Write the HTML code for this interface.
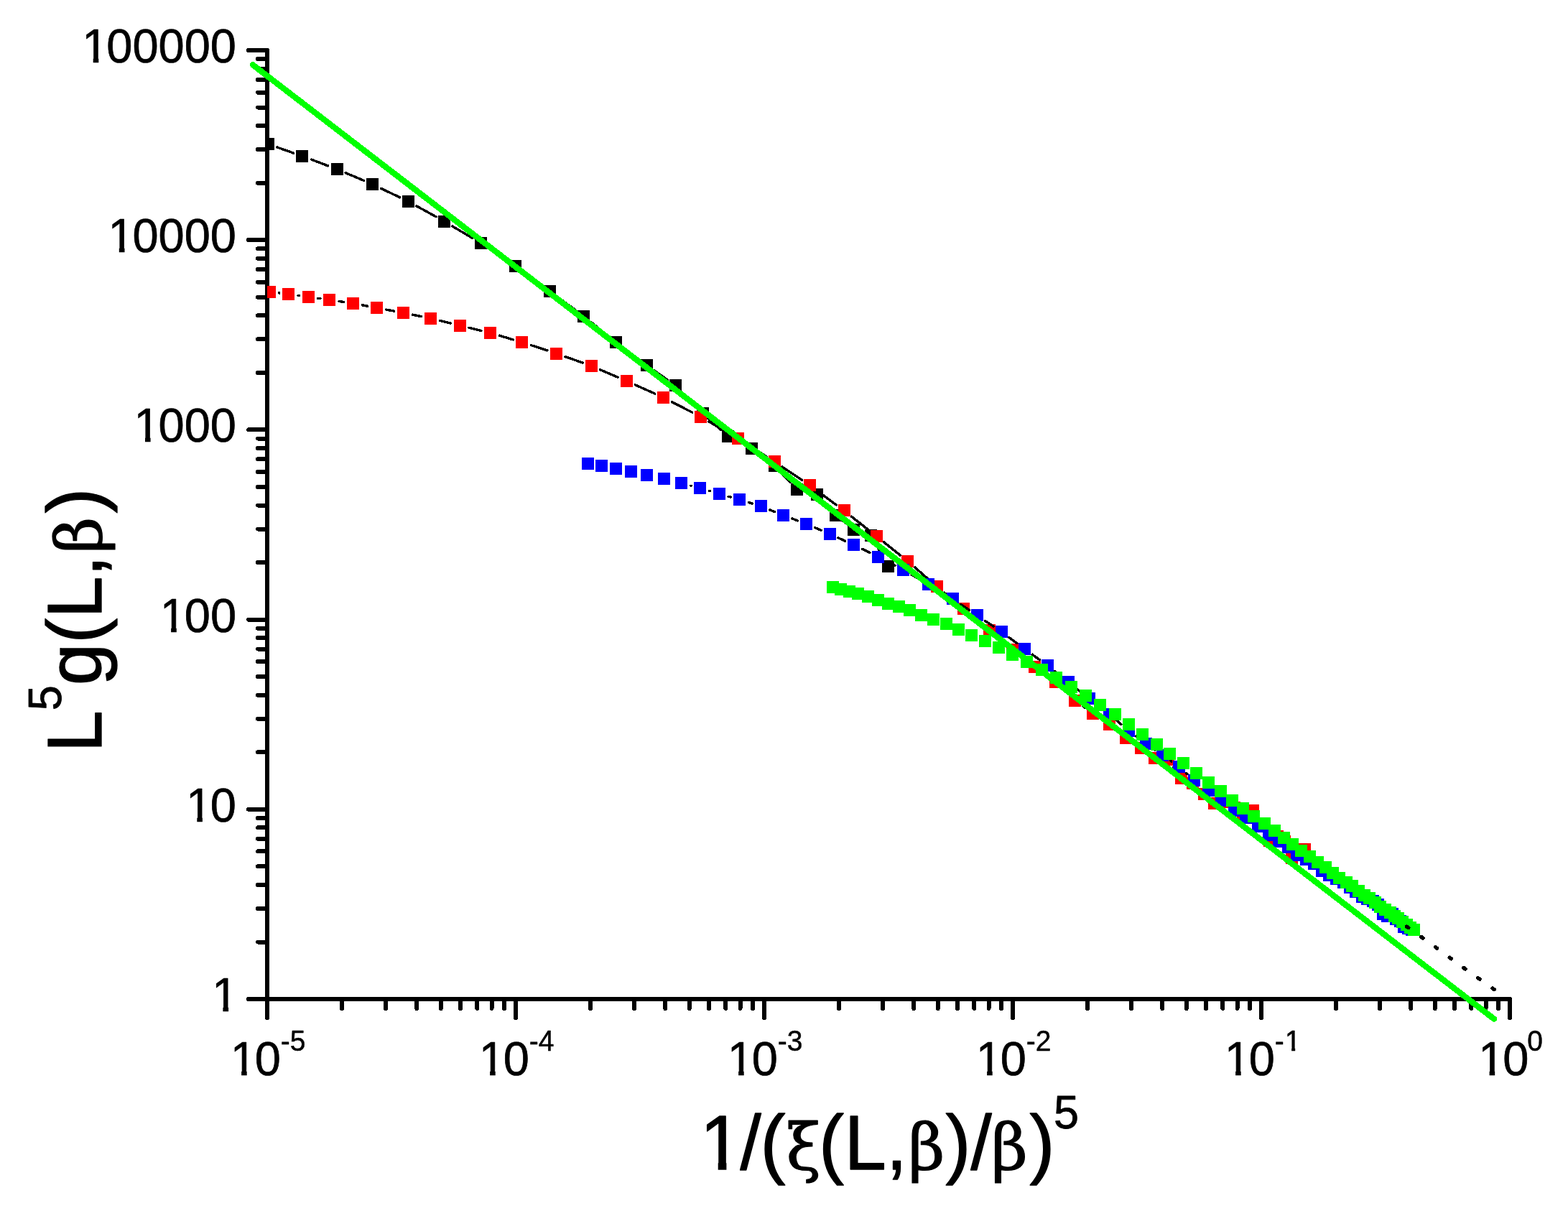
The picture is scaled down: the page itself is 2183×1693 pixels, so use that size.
<!DOCTYPE html>
<html lang="en">
<head>
<meta charset="utf-8">
<title>L^5 g(L,beta) versus 1/(xi(L,beta)/beta)^5</title>
<style>
html,body{margin:0;padding:0;background:#fff;}
body{width:2183px;height:1693px;overflow:hidden;}
svg{display:block;}
text{font-family:"Liberation Sans",sans-serif;fill:#000;stroke:#000;stroke-linejoin:round;}
.tick{font-size:65px;stroke-width:0.7;}
.sup{font-size:39px;stroke-width:0.5;}
.title{font-size:105px;stroke-width:1.3;}
.tsup{font-size:63px;stroke-width:0.8;}
.gr{font-family:"DejaVu Serif","Liberation Serif",serif;font-size:88px;stroke-width:1.2;}
.ax{stroke:#000;stroke-width:6;stroke-linecap:round;fill:none;}
.ln{stroke:#000;stroke-width:3.4;stroke-linecap:round;fill:none;}
.k{fill:#000;}.r{fill:#f00;}.b{fill:#00f;}.g{fill:#0f0;}
</style>
</head>
<body>
<svg width="2183" height="1693" viewBox="0 0 2183 1693" role="img" aria-label="Log-log plot of L^5 g(L,beta) versus 1/(xi(L,beta)/beta)^5">
<rect x="0" y="0" width="2183" height="1693" fill="#fff"/>
<defs><clipPath id="plot"><rect x="372" y="0" width="1760" height="1460"/></clipPath></defs>
<g class="ax" shape-rendering="crispEdges">
<line x1="372" y1="70" x2="372" y2="1417"/>
<line x1="346" y1="1391" x2="2102" y2="1391"/>
<line x1="346" y1="70.0" x2="372" y2="70.0"/>
<line x1="359" y1="254.7" x2="372" y2="254.7"/>
<line x1="359" y1="208.1" x2="372" y2="208.1"/>
<line x1="359" y1="175.1" x2="372" y2="175.1"/>
<line x1="359" y1="149.5" x2="372" y2="149.5"/>
<line x1="359" y1="128.6" x2="372" y2="128.6"/>
<line x1="359" y1="110.9" x2="372" y2="110.9"/>
<line x1="359" y1="95.6" x2="372" y2="95.6"/>
<line x1="359" y1="82.1" x2="372" y2="82.1"/>
<line x1="346" y1="334.2" x2="372" y2="334.2"/>
<line x1="359" y1="518.9" x2="372" y2="518.9"/>
<line x1="359" y1="472.3" x2="372" y2="472.3"/>
<line x1="359" y1="439.3" x2="372" y2="439.3"/>
<line x1="359" y1="413.7" x2="372" y2="413.7"/>
<line x1="359" y1="392.8" x2="372" y2="392.8"/>
<line x1="359" y1="375.1" x2="372" y2="375.1"/>
<line x1="359" y1="359.8" x2="372" y2="359.8"/>
<line x1="359" y1="346.3" x2="372" y2="346.3"/>
<line x1="346" y1="598.4" x2="372" y2="598.4"/>
<line x1="359" y1="783.1" x2="372" y2="783.1"/>
<line x1="359" y1="736.5" x2="372" y2="736.5"/>
<line x1="359" y1="703.5" x2="372" y2="703.5"/>
<line x1="359" y1="677.9" x2="372" y2="677.9"/>
<line x1="359" y1="657.0" x2="372" y2="657.0"/>
<line x1="359" y1="639.3" x2="372" y2="639.3"/>
<line x1="359" y1="624.0" x2="372" y2="624.0"/>
<line x1="359" y1="610.5" x2="372" y2="610.5"/>
<line x1="346" y1="862.6" x2="372" y2="862.6"/>
<line x1="359" y1="1047.3" x2="372" y2="1047.3"/>
<line x1="359" y1="1000.7" x2="372" y2="1000.7"/>
<line x1="359" y1="967.7" x2="372" y2="967.7"/>
<line x1="359" y1="942.1" x2="372" y2="942.1"/>
<line x1="359" y1="921.2" x2="372" y2="921.2"/>
<line x1="359" y1="903.5" x2="372" y2="903.5"/>
<line x1="359" y1="888.2" x2="372" y2="888.2"/>
<line x1="359" y1="874.7" x2="372" y2="874.7"/>
<line x1="346" y1="1126.8" x2="372" y2="1126.8"/>
<line x1="359" y1="1311.5" x2="372" y2="1311.5"/>
<line x1="359" y1="1264.9" x2="372" y2="1264.9"/>
<line x1="359" y1="1231.9" x2="372" y2="1231.9"/>
<line x1="359" y1="1206.3" x2="372" y2="1206.3"/>
<line x1="359" y1="1185.4" x2="372" y2="1185.4"/>
<line x1="359" y1="1167.7" x2="372" y2="1167.7"/>
<line x1="359" y1="1152.4" x2="372" y2="1152.4"/>
<line x1="359" y1="1138.9" x2="372" y2="1138.9"/>
<line x1="346" y1="1391.0" x2="372" y2="1391.0"/>
<line x1="372.0" y1="1391" x2="372.0" y2="1417"/>
<line x1="476.2" y1="1391" x2="476.2" y2="1404"/>
<line x1="537.1" y1="1391" x2="537.1" y2="1404"/>
<line x1="580.3" y1="1391" x2="580.3" y2="1404"/>
<line x1="613.8" y1="1391" x2="613.8" y2="1404"/>
<line x1="641.2" y1="1391" x2="641.2" y2="1404"/>
<line x1="664.4" y1="1391" x2="664.4" y2="1404"/>
<line x1="684.5" y1="1391" x2="684.5" y2="1404"/>
<line x1="702.2" y1="1391" x2="702.2" y2="1404"/>
<line x1="718.0" y1="1391" x2="718.0" y2="1417"/>
<line x1="822.2" y1="1391" x2="822.2" y2="1404"/>
<line x1="883.1" y1="1391" x2="883.1" y2="1404"/>
<line x1="926.3" y1="1391" x2="926.3" y2="1404"/>
<line x1="959.8" y1="1391" x2="959.8" y2="1404"/>
<line x1="987.2" y1="1391" x2="987.2" y2="1404"/>
<line x1="1010.4" y1="1391" x2="1010.4" y2="1404"/>
<line x1="1030.5" y1="1391" x2="1030.5" y2="1404"/>
<line x1="1048.2" y1="1391" x2="1048.2" y2="1404"/>
<line x1="1064.0" y1="1391" x2="1064.0" y2="1417"/>
<line x1="1168.2" y1="1391" x2="1168.2" y2="1404"/>
<line x1="1229.1" y1="1391" x2="1229.1" y2="1404"/>
<line x1="1272.3" y1="1391" x2="1272.3" y2="1404"/>
<line x1="1305.8" y1="1391" x2="1305.8" y2="1404"/>
<line x1="1333.2" y1="1391" x2="1333.2" y2="1404"/>
<line x1="1356.4" y1="1391" x2="1356.4" y2="1404"/>
<line x1="1376.5" y1="1391" x2="1376.5" y2="1404"/>
<line x1="1394.2" y1="1391" x2="1394.2" y2="1404"/>
<line x1="1410.0" y1="1391" x2="1410.0" y2="1417"/>
<line x1="1514.2" y1="1391" x2="1514.2" y2="1404"/>
<line x1="1575.1" y1="1391" x2="1575.1" y2="1404"/>
<line x1="1618.3" y1="1391" x2="1618.3" y2="1404"/>
<line x1="1651.8" y1="1391" x2="1651.8" y2="1404"/>
<line x1="1679.2" y1="1391" x2="1679.2" y2="1404"/>
<line x1="1702.4" y1="1391" x2="1702.4" y2="1404"/>
<line x1="1722.5" y1="1391" x2="1722.5" y2="1404"/>
<line x1="1740.2" y1="1391" x2="1740.2" y2="1404"/>
<line x1="1756.0" y1="1391" x2="1756.0" y2="1417"/>
<line x1="1860.2" y1="1391" x2="1860.2" y2="1404"/>
<line x1="1921.1" y1="1391" x2="1921.1" y2="1404"/>
<line x1="1964.3" y1="1391" x2="1964.3" y2="1404"/>
<line x1="1997.8" y1="1391" x2="1997.8" y2="1404"/>
<line x1="2025.2" y1="1391" x2="2025.2" y2="1404"/>
<line x1="2048.4" y1="1391" x2="2048.4" y2="1404"/>
<line x1="2068.5" y1="1391" x2="2068.5" y2="1404"/>
<line x1="2086.2" y1="1391" x2="2086.2" y2="1404"/>
<line x1="2102.0" y1="1391" x2="2102.0" y2="1417"/>
</g>
<g clip-path="url(#plot)" shape-rendering="crispEdges">
<path class="ln" d="M385.8 205.0L408.6 213.1M433.4 222.1L456.7 230.9M481.2 240.7L506.4 251.4M530.4 262.3L556.6 274.8M580.1 286.9L607.0 301.8M629.9 315.0L657.8 331.6M680.1 345.7L706.5 363.1M728.2 378.2L754.7 397.6M776.0 413.2L802.0 432.4M822.9 448.5L847.2 468.2M868.1 484.4L889.8 500.5M911.1 516.1L929.5 529.1M949.4 546.2L969.1 566.3M988.1 584.5L1003.7 598.5M1025.3 613.3L1034.4 618.0M1056.7 632.0L1067.8 640.3M1087.4 657.9L1100.3 671.7M1122.2 684.7L1124.7 685.4M1146.4 698.6L1154.5 707.5M1173.8 725.5L1178.2 728.9M1219.0 756.9L1229.8 776.9"/>
<rect class="k" x="365" y="192" width="17" height="17"/>
<rect class="k" x="412" y="209" width="17" height="17"/>
<rect class="k" x="461" y="227" width="17" height="17"/>
<rect class="k" x="510" y="248" width="17" height="17"/>
<rect class="k" x="560" y="272" width="17" height="17"/>
<rect class="k" x="610" y="300" width="17" height="17"/>
<rect class="k" x="661" y="330" width="17" height="17"/>
<rect class="k" x="709" y="362" width="17" height="17"/>
<rect class="k" x="757" y="397" width="17" height="17"/>
<rect class="k" x="804" y="432" width="17" height="17"/>
<rect class="k" x="849" y="468" width="17" height="17"/>
<rect class="k" x="892" y="500" width="17" height="17"/>
<rect class="k" x="932" y="528" width="17" height="17"/>
<rect class="k" x="970" y="567" width="17" height="17"/>
<rect class="k" x="1005" y="599" width="17" height="17"/>
<rect class="k" x="1038" y="616" width="17" height="17"/>
<rect class="k" x="1070" y="640" width="17" height="17"/>
<rect class="k" x="1101" y="673" width="17" height="17"/>
<rect class="k" x="1129" y="680" width="17" height="17"/>
<rect class="k" x="1155" y="709" width="17" height="17"/>
<rect class="k" x="1180" y="729" width="17" height="17"/>
<rect class="k" x="1204" y="737" width="17" height="17"/>
<rect class="k" x="1228" y="780" width="17" height="17"/>
</g>
<g clip-path="url(#plot)" shape-rendering="crispEdges">
<path class="ln" d="M388.5 407.9L388.8 408.0M415.0 411.4L416.4 411.6M442.6 415.3L445.9 415.7M472.1 419.5L478.4 420.4M504.5 424.8L511.5 426.2M537.5 431.1L548.5 433.1M574.4 438.2L586.6 440.6M612.3 446.3L627.2 450.0M652.8 456.2L669.9 460.4M695.4 467.2L714.3 472.9M739.6 480.7L761.9 487.9M786.9 496.5L811.1 505.1M835.6 514.8L860.3 525.3M884.4 535.9L911.8 548.1M935.5 559.6L963.7 574.2M986.8 586.9L1016.0 604.0M1038.6 617.6L1066.9 635.5M1089.0 649.9L1116.5 668.3M1138.0 683.5L1164.5 703.1M1185.4 719.1L1209.7 738.3M1230.3 754.7L1253.4 773.2M1273.7 790.0L1294.5 808.1M1314.6 825.2L1331.3 839.0M1351.6 855.9L1367.4 868.8M1387.7 885.7L1399.8 895.9M1420.3 912.6L1429.9 920.1M1451.0 936.0L1458.8 941.6M1479.0 958.4L1487.2 966.2M1507.4 983.0L1510.8 985.5M1532.6 1000.4L1533.6 1001.0M1554.8 1016.7L1557.4 1018.8M1633.9 1068.1L1636.9 1072.5"/>
<rect class="r" x="367" y="398" width="17" height="17"/>
<rect class="r" x="393" y="401" width="17" height="17"/>
<rect class="r" x="421" y="405" width="17" height="17"/>
<rect class="r" x="450" y="409" width="17" height="17"/>
<rect class="r" x="483" y="414" width="17" height="17"/>
<rect class="r" x="516" y="420" width="17" height="17"/>
<rect class="r" x="553" y="427" width="17" height="17"/>
<rect class="r" x="591" y="435" width="17" height="17"/>
<rect class="r" x="632" y="445" width="17" height="17"/>
<rect class="r" x="674" y="455" width="17" height="17"/>
<rect class="r" x="718" y="468" width="17" height="17"/>
<rect class="r" x="766" y="484" width="17" height="17"/>
<rect class="r" x="815" y="501" width="17" height="17"/>
<rect class="r" x="864" y="522" width="17" height="17"/>
<rect class="r" x="915" y="545" width="17" height="17"/>
<rect class="r" x="967" y="572" width="17" height="17"/>
<rect class="r" x="1019" y="602" width="17" height="17"/>
<rect class="r" x="1070" y="634" width="17" height="17"/>
<rect class="r" x="1119" y="667" width="17" height="17"/>
<rect class="r" x="1167" y="702" width="17" height="17"/>
<rect class="r" x="1212" y="738" width="17" height="17"/>
<rect class="r" x="1255" y="773" width="17" height="17"/>
<rect class="r" x="1296" y="808" width="17" height="17"/>
<rect class="r" x="1333" y="839" width="17" height="17"/>
<rect class="r" x="1369" y="869" width="17" height="17"/>
<rect class="r" x="1401" y="896" width="17" height="17"/>
<rect class="r" x="1432" y="920" width="17" height="17"/>
<rect class="r" x="1461" y="941" width="17" height="17"/>
<rect class="r" x="1488" y="967" width="17" height="17"/>
<rect class="r" x="1513" y="985" width="17" height="17"/>
<rect class="r" x="1536" y="1000" width="17" height="17"/>
<rect class="r" x="1559" y="1019" width="17" height="17"/>
<rect class="r" x="1580" y="1033" width="17" height="17"/>
<rect class="r" x="1599" y="1047" width="17" height="17"/>
<rect class="r" x="1618" y="1049" width="17" height="17"/>
<rect class="r" x="1636" y="1075" width="17" height="17"/>
<rect class="r" x="1652" y="1082" width="17" height="17"/>
<rect class="r" x="1668" y="1097" width="17" height="17"/>
<rect class="r" x="1682" y="1110" width="17" height="17"/>
<rect class="r" x="1696" y="1108" width="17" height="17"/>
<rect class="r" x="1710" y="1116" width="17" height="17"/>
<rect class="r" x="1722" y="1126" width="17" height="17"/>
<rect class="r" x="1736" y="1120" width="17" height="17"/>
<rect class="r" x="1748" y="1142" width="17" height="17"/>
<rect class="r" x="1759" y="1162" width="17" height="17"/>
<rect class="r" x="1770" y="1156" width="17" height="17"/>
<rect class="r" x="1780" y="1163" width="17" height="17"/>
<rect class="r" x="1790" y="1186" width="17" height="17"/>
<rect class="r" x="1799" y="1176" width="17" height="17"/>
<rect class="r" x="1808" y="1174" width="17" height="17"/>
</g>
<g clip-path="url(#plot)" shape-rendering="crispEdges">
<path class="ln" d="M961.8 676.3L962.2 676.4M987.6 683.5L988.8 683.8M1014.1 691.2L1017.2 692.0M1042.5 699.6L1047.0 701.0M1071.8 709.9L1078.4 712.6M1103.0 722.1L1110.2 724.8M1134.7 734.7L1143.0 738.2M1167.1 748.9L1176.6 753.2M1200.5 764.4L1211.1 769.6M1234.7 781.5L1246.0 787.4M1269.1 800.1L1281.2 807.1M1304.0 820.4L1315.2 827.1M1337.5 841.3L1349.6 849.5M1371.4 864.4L1383.3 872.3M1404.8 887.5L1415.8 895.7M1437.1 911.2L1447.5 918.8M1468.5 934.7L1477.1 941.5M1497.7 957.9L1506.2 964.7M1526.9 981.0L1534.3 986.8M1554.8 1003.4L1561.0 1008.7M1581.6 1025.2L1585.2 1027.8M1606.5 1043.3L1607.8 1044.2M1629.5 1059.1L1630.7 1060.0M1651.4 1076.3L1652.8 1077.6"/>
<rect class="b" x="810" y="637" width="17" height="17"/>
<rect class="b" x="829" y="640" width="17" height="17"/>
<rect class="b" x="849" y="644" width="17" height="17"/>
<rect class="b" x="870" y="648" width="17" height="17"/>
<rect class="b" x="892" y="653" width="17" height="17"/>
<rect class="b" x="916" y="658" width="17" height="17"/>
<rect class="b" x="940" y="664" width="17" height="17"/>
<rect class="b" x="966" y="671" width="17" height="17"/>
<rect class="b" x="993" y="679" width="17" height="17"/>
<rect class="b" x="1021" y="687" width="17" height="17"/>
<rect class="b" x="1051" y="696" width="17" height="17"/>
<rect class="b" x="1082" y="709" width="17" height="17"/>
<rect class="b" x="1114" y="721" width="17" height="17"/>
<rect class="b" x="1147" y="735" width="17" height="17"/>
<rect class="b" x="1180" y="750" width="17" height="17"/>
<rect class="b" x="1214" y="767" width="17" height="17"/>
<rect class="b" x="1249" y="785" width="17" height="17"/>
<rect class="b" x="1284" y="805" width="17" height="17"/>
<rect class="b" x="1318" y="825" width="17" height="17"/>
<rect class="b" x="1352" y="848" width="17" height="17"/>
<rect class="b" x="1386" y="871" width="17" height="17"/>
<rect class="b" x="1418" y="895" width="17" height="17"/>
<rect class="b" x="1450" y="918" width="17" height="17"/>
<rect class="b" x="1479" y="941" width="17" height="17"/>
<rect class="b" x="1508" y="964" width="17" height="17"/>
<rect class="b" x="1536" y="986" width="17" height="17"/>
<rect class="b" x="1563" y="1009" width="17" height="17"/>
<rect class="b" x="1587" y="1027" width="17" height="17"/>
<rect class="b" x="1610" y="1043" width="17" height="17"/>
<rect class="b" x="1633" y="1059" width="17" height="17"/>
<rect class="b" x="1654" y="1078" width="17" height="17"/>
<rect class="b" x="1674" y="1092" width="17" height="17"/>
<rect class="b" x="1692" y="1106" width="17" height="17"/>
<rect class="b" x="1710" y="1120" width="17" height="17"/>
<rect class="b" x="1726" y="1130" width="17" height="17"/>
<rect class="b" x="1743" y="1142" width="17" height="17"/>
<rect class="b" x="1758" y="1154" width="17" height="17"/>
<rect class="b" x="1772" y="1163" width="17" height="17"/>
<rect class="b" x="1785" y="1171" width="17" height="17"/>
<rect class="b" x="1797" y="1182" width="17" height="17"/>
<rect class="b" x="1810" y="1188" width="17" height="17"/>
<rect class="b" x="1821" y="1194" width="17" height="17"/>
<rect class="b" x="1832" y="1204" width="17" height="17"/>
<rect class="b" x="1842" y="1210" width="17" height="17"/>
<rect class="b" x="1852" y="1215" width="17" height="17"/>
<rect class="b" x="1862" y="1220" width="17" height="17"/>
<rect class="b" x="1871" y="1227" width="17" height="17"/>
<rect class="b" x="1879" y="1233" width="17" height="17"/>
<rect class="b" x="1888" y="1240" width="17" height="17"/>
<rect class="b" x="1895" y="1243" width="17" height="17"/>
<rect class="b" x="1903" y="1246" width="17" height="17"/>
<rect class="b" x="1910" y="1251" width="17" height="17"/>
<rect class="b" x="1917" y="1264" width="17" height="17"/>
<rect class="b" x="1923" y="1267" width="17" height="17"/>
<rect class="b" x="1930" y="1264" width="17" height="17"/>
<rect class="b" x="1935" y="1271" width="17" height="17"/>
<rect class="b" x="1941" y="1274" width="17" height="17"/>
<rect class="b" x="1946" y="1282" width="17" height="17"/>
<rect class="b" x="1952" y="1284" width="17" height="17"/>
<rect class="b" x="1957" y="1286" width="17" height="17"/>
</g>
<g clip-path="url(#plot)" shape-rendering="crispEdges">
<rect class="g" x="1151" y="809" width="17" height="17"/>
<rect class="g" x="1162" y="812" width="17" height="17"/>
<rect class="g" x="1174" y="815" width="17" height="17"/>
<rect class="g" x="1186" y="818" width="17" height="17"/>
<rect class="g" x="1200" y="822" width="17" height="17"/>
<rect class="g" x="1214" y="827" width="17" height="17"/>
<rect class="g" x="1228" y="832" width="17" height="17"/>
<rect class="g" x="1243" y="836" width="17" height="17"/>
<rect class="g" x="1258" y="841" width="17" height="17"/>
<rect class="g" x="1274" y="848" width="17" height="17"/>
<rect class="g" x="1291" y="854" width="17" height="17"/>
<rect class="g" x="1309" y="860" width="17" height="17"/>
<rect class="g" x="1326" y="868" width="17" height="17"/>
<rect class="g" x="1344" y="876" width="17" height="17"/>
<rect class="g" x="1363" y="884" width="17" height="17"/>
<rect class="g" x="1382" y="893" width="17" height="17"/>
<rect class="g" x="1401" y="903" width="17" height="17"/>
<rect class="g" x="1421" y="913" width="17" height="17"/>
<rect class="g" x="1442" y="924" width="17" height="17"/>
<rect class="g" x="1462" y="935" width="17" height="17"/>
<rect class="g" x="1483" y="948" width="17" height="17"/>
<rect class="g" x="1503" y="960" width="17" height="17"/>
<rect class="g" x="1523" y="973" width="17" height="17"/>
<rect class="g" x="1544" y="986" width="17" height="17"/>
<rect class="g" x="1563" y="1000" width="17" height="17"/>
<rect class="g" x="1582" y="1014" width="17" height="17"/>
<rect class="g" x="1602" y="1028" width="17" height="17"/>
<rect class="g" x="1620" y="1041" width="17" height="17"/>
<rect class="g" x="1639" y="1054" width="17" height="17"/>
<rect class="g" x="1657" y="1068" width="17" height="17"/>
<rect class="g" x="1674" y="1081" width="17" height="17"/>
<rect class="g" x="1691" y="1093" width="17" height="17"/>
<rect class="g" x="1707" y="1106" width="17" height="17"/>
<rect class="g" x="1722" y="1117" width="17" height="17"/>
<rect class="g" x="1737" y="1128" width="17" height="17"/>
<rect class="g" x="1752" y="1138" width="17" height="17"/>
<rect class="g" x="1766" y="1148" width="17" height="17"/>
<rect class="g" x="1779" y="1158" width="17" height="17"/>
<rect class="g" x="1791" y="1167" width="17" height="17"/>
<rect class="g" x="1803" y="1176" width="17" height="17"/>
<rect class="g" x="1815" y="1184" width="17" height="17"/>
<rect class="g" x="1826" y="1192" width="17" height="17"/>
<rect class="g" x="1837" y="1199" width="17" height="17"/>
<rect class="g" x="1847" y="1207" width="17" height="17"/>
<rect class="g" x="1856" y="1214" width="17" height="17"/>
<rect class="g" x="1866" y="1220" width="17" height="17"/>
<rect class="g" x="1874" y="1225" width="17" height="17"/>
<rect class="g" x="1883" y="1232" width="17" height="17"/>
<rect class="g" x="1891" y="1238" width="17" height="17"/>
<rect class="g" x="1898" y="1242" width="17" height="17"/>
<rect class="g" x="1906" y="1248" width="17" height="17"/>
<rect class="g" x="1913" y="1254" width="17" height="17"/>
<rect class="g" x="1920" y="1258" width="17" height="17"/>
<rect class="g" x="1927" y="1262" width="17" height="17"/>
<rect class="g" x="1933" y="1267" width="17" height="17"/>
<rect class="g" x="1938" y="1270" width="17" height="17"/>
<rect class="g" x="1944" y="1275" width="17" height="17"/>
<rect class="g" x="1950" y="1279" width="17" height="17"/>
<rect class="g" x="1955" y="1283" width="17" height="17"/>
<rect class="g" x="1960" y="1286" width="17" height="17"/>
</g>
<line x1="352" y1="90.3" x2="2080" y2="1418.6" stroke="#0f0" stroke-width="8.3" stroke-linecap="round" shape-rendering="crispEdges"/>
<g stroke="#000" stroke-width="5.4" stroke-linecap="round" shape-rendering="crispEdges">
<line x1="1958.6" y1="1290.1" x2="1960.8" y2="1291.7"/>
<line x1="1978.6" y1="1304.4" x2="1980.8" y2="1306.0"/>
<line x1="1998.4" y1="1318.6" x2="2000.6" y2="1320.2"/>
<line x1="2018.2" y1="1333.2" x2="2020.4" y2="1334.8"/>
<line x1="2037.9" y1="1347.5" x2="2040.1" y2="1349.1"/>
<line x1="2057.9" y1="1361.7" x2="2060.1" y2="1363.3"/>
<line x1="2077.9" y1="1376.1" x2="2080.1" y2="1377.7"/>
</g>
<text class="tick" transform="translate(112.1 87.0) scale(1 1.025)" dx="2.2 -2.2">100000</text>
<text class="tick" transform="translate(148.3 351.2) scale(1 1.025)" dx="2.2 -2.2">10000</text>
<text class="tick" transform="translate(184.4 615.4) scale(1 1.025)" dx="2.2 -2.2">1000</text>
<text class="tick" transform="translate(220.6 879.6) scale(1 1.025)" dx="2.2 -2.2">100</text>
<text class="tick" transform="translate(256.7 1143.8) scale(1 1.025)" dx="2.2 -2.2">10</text>
<text class="tick" transform="translate(292.9 1408.0) scale(1 1.025)" dx="2.2">1</text>
<text class="tick" transform="translate(318.5 1497) scale(1 1.025)" dx="2.2 -2.2">10<tspan class="sup" dy="-33">-5</tspan></text>
<text class="tick" transform="translate(664.5 1497) scale(1 1.025)" dx="2.2 -2.2">10<tspan class="sup" dy="-33">-4</tspan></text>
<text class="tick" transform="translate(1010.5 1497) scale(1 1.025)" dx="2.2 -2.2">10<tspan class="sup" dy="-33">-3</tspan></text>
<text class="tick" transform="translate(1356.5 1497) scale(1 1.025)" dx="2.2 -2.2">10<tspan class="sup" dy="-33">-2</tspan></text>
<text class="tick" transform="translate(1702.5 1497) scale(1 1.025)" dx="2.2 -2.2">10<tspan class="sup" dy="-33" dx="0 1.3">-1</tspan></text>
<text class="tick" transform="translate(2056.0 1497) scale(1 1.025)" dx="2.2 -2.2">10<tspan class="sup" dy="-33" dx="-2">0</tspan></text>
<text class="title" transform="translate(971 1628) scale(1 1.025)" x="3.5 59.4 87.6 123.5 169 204.5 262.8 293.5 345.4 380.4 409.1 462.4 495.9">1/(<tspan class="gr">ξ</tspan>(L,<tspan class="gr">β</tspan>)/<tspan class="gr">β</tspan>)<tspan class="tsup" dy="-56">5</tspan></text>
<text class="title" transform="translate(141 1047.6) rotate(-90) scale(1 1.025)" x="0 58.4 93.4 151.8 186.8 245.2 277 333">L<tspan class="tsup" dy="-54.5">5</tspan><tspan dy="54.5">g(L,</tspan><tspan class="gr">β</tspan>)</text>
<g fill="#fff">
<rect x="117.6" y="79.0" width="12.1" height="11.0"/>
<rect x="137.3" y="79.0" width="11.5" height="11.0"/>
<rect x="153.7" y="343.0" width="12.1" height="11.0"/>
<rect x="173.5" y="343.0" width="11.5" height="11.0"/>
<rect x="189.9" y="608.0" width="12.1" height="10.0"/>
<rect x="209.6" y="608.0" width="11.5" height="10.0"/>
<rect x="226.0" y="872.0" width="12.1" height="10.0"/>
<rect x="245.8" y="872.0" width="11.5" height="10.0"/>
<rect x="262.2" y="1136.0" width="12.1" height="10.0"/>
<rect x="281.9" y="1136.0" width="11.5" height="10.0"/>
<rect x="298.3" y="1400.0" width="12.1" height="11.0"/>
<rect x="318.1" y="1400.0" width="11.5" height="11.0"/>
<rect x="324.0" y="1489.0" width="12.1" height="11.0"/>
<rect x="343.7" y="1489.0" width="11.5" height="11.0"/>
<rect x="670.0" y="1489.0" width="12.1" height="11.0"/>
<rect x="689.7" y="1489.0" width="11.5" height="11.0"/>
<rect x="1016.0" y="1489.0" width="12.1" height="11.0"/>
<rect x="1035.7" y="1489.0" width="11.5" height="11.0"/>
<rect x="1362.0" y="1489.0" width="12.1" height="11.0"/>
<rect x="1381.7" y="1489.0" width="11.5" height="11.0"/>
<rect x="1790.6" y="1458.0" width="7.5" height="8.0"/>
<rect x="1803.2" y="1458.0" width="7.1" height="8.0"/>
<rect x="1708.0" y="1489.0" width="12.1" height="11.0"/>
<rect x="1727.7" y="1489.0" width="11.5" height="11.0"/>
<rect x="2061.5" y="1489.0" width="12.1" height="11.0"/>
<rect x="2081.2" y="1489.0" width="11.5" height="11.0"/>
<rect x="980.2" y="1617.0" width="19.5" height="14.0"/>
<rect x="1011.4" y="1617.0" width="18.2" height="14.0"/>
</g>
</svg>
</body>
</html>
